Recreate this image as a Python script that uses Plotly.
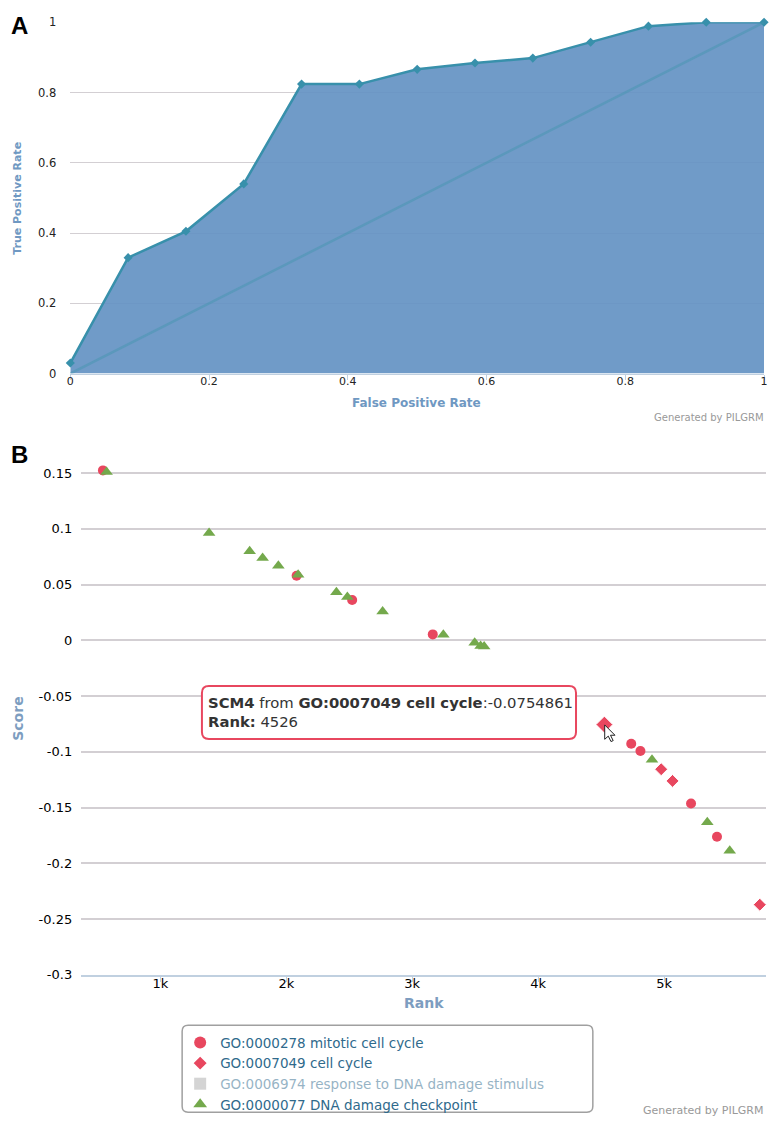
import plotly.graph_objects as go

# ---------- Panel A: ROC ----------
fpr = [0, 1/12, 2/12, 3/12, 4/12, 5/12, 6/12, 7/12, 8/12, 9/12, 10/12, 11/12, 1]
tpr = [0.03, 0.33, 0.405, 0.54, 0.824, 0.824, 0.866, 0.884, 0.898, 0.943, 0.989, 1.0, 1.0]
diag = [0, 1]
roc_xticks = [0, 0.2, 0.4, 0.6, 0.8, 1]
roc_xlabels = ["0", "0.2", "0.4", "0.6", "0.8", "1"]
roc_yticks = [0, 0.2, 0.4, 0.6, 0.8, 1]
roc_ylabels = ["0", "0.2", "0.4", "0.6", "0.8", "1"]

# ---------- Panel B: Score vs Rank ----------
mitotic_rank = [544, 2082, 2523, 3163, 4739, 4812, 5214, 5420]
mitotic_score = [0.1525, 0.058, 0.0363, 0.0054, -0.0926, -0.0991, -0.1463, -0.176]
cellcycle_rank = [4526, 4977, 5067, 5760]
cellcycle_score = [-0.0754861, -0.1155, -0.126, -0.237]
damage_stim_rank = [None]      # series hidden in the reference (legend only)
damage_stim_score = [None]
checkpoint_rank = [573, 1387, 1709, 1812, 1937, 2094, 2398, 2485, 2765, 3247, 3496, 3543, 3571, 4904, 5343, 5521]
checkpoint_score = [0.151, 0.0963, 0.080, 0.074, 0.067, 0.059, 0.0432, 0.039, 0.026, 0.005, -0.002, -0.005, -0.0055, -0.107, -0.163, -0.1886]
rank_ticks = [1000, 2000, 3000, 4000, 5000]
rank_labels = ["1k", "2k", "3k", "4k", "5k"]
score_ticks = [0.15, 0.1, 0.05, 0, -0.05, -0.1, -0.15, -0.2, -0.25, -0.3]
score_labels = ["0.15", "0.1", "0.05", "0", "-0.05", "-0.1", "-0.15", "-0.2", "-0.25", "-0.3"]

W, H = 773, 1127
RED = "#e8475f"
GREEN = "#74a94c"
FONT = "DejaVu Sans"

# the captured page is slightly squeezed vertically; map target pixels to layout pixels
SCY, OFFY = 0.9886, 4.7

def px_x(p):
    return max(0.0, min(1.0, p / W))

def px_y(p):
    return max(0.0, min(1.0, 1 - ((p - OFFY) / SCY) / H))

fig = go.Figure()

# Panel A traces
fig.add_trace(go.Scatter(
    x=fpr, y=tpr, mode="lines+markers", fill="tozeroy",
    fillcolor="rgba(100,146,195,0.92)",
    line=dict(color="#3890ab", width=2.5),
    marker=dict(symbol="diamond", size=7, color="#3890ab"),
    xaxis="x", yaxis="y", showlegend=False, cliponaxis=False))
fig.add_trace(go.Scatter(
    x=diag, y=diag, mode="lines",
    line=dict(color="rgba(70,150,175,0.5)", width=2.5),
    xaxis="x", yaxis="y", showlegend=False))

# Panel B traces
fig.add_trace(go.Scatter(
    x=mitotic_rank, y=mitotic_score, mode="markers",
    name="GO:0000278 mitotic cell cycle",
    marker=dict(symbol="circle", size=10, color=RED, opacity=1),
    xaxis="x2", yaxis="y2", cliponaxis=False))
fig.add_trace(go.Scatter(
    x=cellcycle_rank, y=cellcycle_score, mode="markers",
    name="GO:0007049 cell cycle",
    marker=dict(symbol="diamond", size=[13, 10, 10, 10], color=RED, opacity=1),
    xaxis="x2", yaxis="y2", cliponaxis=False))
fig.add_trace(go.Scatter(
    x=damage_stim_rank, y=damage_stim_score, mode="markers",
    name="GO:0006974 response to DNA damage stimulus",
    marker=dict(symbol="square", size=8, color="#aaaaaa"),
    visible="legendonly", xaxis="x2", yaxis="y2"))
fig.add_trace(go.Scatter(
    x=checkpoint_rank, y=checkpoint_score, mode="markers",
    name="GO:0000077 DNA damage checkpoint",
    marker=dict(symbol="triangle-up", size=11, color=GREEN, opacity=1),
    xaxis="x2", yaxis="y2", cliponaxis=False))

def rounded_rect(x0, y0, x1, y1, r):
    X0, X1 = px_x(x0), px_x(x1)
    Y0, Y1 = px_y(y0), px_y(y1)
    rx, ry = r / W, r / H
    return (f"M {X0+rx},{Y0} L {X1-rx},{Y0} Q {X1},{Y0} {X1},{Y0-ry} "
            f"L {X1},{Y1+ry} Q {X1},{Y1} {X1-rx},{Y1} "
            f"L {X0+rx},{Y1} Q {X0},{Y1} {X0},{Y1+ry} "
            f"L {X0},{Y0-ry} Q {X0},{Y0} {X0+rx},{Y0} Z")

def cursor_path(tx, ty, s):
    pts = [(0, 0), (0, 16), (4, 12.5), (7, 18.5), (9.5, 17.5), (6.5, 11.5), (11.5, 11.5)]
    seg = " L ".join(f"{px_x(tx + s*a)},{px_y(ty + s*b)}" for a, b in pts)
    return "M " + seg + " Z"

grid = "#d3cfd3"
axline = "#c0d0e0"

# rank axis: 1k at target px 158, 5k at 667
RPX0, RPX1 = 158.0, 667.0
def rank_at(p):
    return 1000 + (p - RPX0) * 4000 / (RPX1 - RPX0)

fig.update_layout(
    width=W, height=H,
    margin=dict(l=0, r=0, t=0, b=0),
    paper_bgcolor="white", plot_bgcolor="white",
    font=dict(family=FONT, color="#111111"),
    xaxis=dict(domain=[px_x(67), px_x(768)], range=[0, 1], anchor="y",
               tickvals=roc_xticks, ticktext=roc_xlabels,
               tickfont=dict(size=11, color="#222"),
               showgrid=False, zeroline=False,
               showline=True, linecolor=axline, linewidth=1,
               ticks="outside", ticklen=5, tickcolor=axline,
               ticklabelstandoff=-8),
    yaxis=dict(domain=[px_y(372), px_y(20)], range=[0, 1], anchor="x",
               tickvals=roc_yticks, ticktext=roc_ylabels,
               tickfont=dict(size=11.5, color="#222"),
               showgrid=True, gridcolor=grid, zeroline=False,
               ticklabelstandoff=13),
    xaxis2=dict(domain=[px_x(78), px_x(770)],
                range=[rank_at(78), rank_at(770)], anchor="y2",
                tickvals=rank_ticks, ticktext=rank_labels,
                tickfont=dict(size=13, color="#000"),
                showgrid=False, zeroline=False,
                showline=True, linecolor=axline, linewidth=1.5,
                ticks="outside", ticklen=5, tickcolor=axline,
                ticklabelstandoff=-9),
    yaxis2=dict(domain=[px_y(974.5), px_y(460.6)], range=[-0.3, 0.16], anchor="x2",
                tickvals=score_ticks, ticktext=score_labels,
                tickfont=dict(size=13, color="#000"),
                showgrid=True, gridcolor=grid, gridwidth=1.5, zeroline=False,
                ticklabelstandoff=8),
    showlegend=True,
    legend=dict(x=px_x(178), xanchor="left", y=px_y(1027), yanchor="top",
                bgcolor="rgba(0,0,0,0)", borderwidth=0,
                font=dict(family=FONT, size=13.5, color="#2f6a8c"),
                tracegroupgap=0, itemsizing="constant"),
)

shapes = [
    # legend box
    dict(type="path", path=rounded_rect(180, 1025, 595, 1112, 6), xref="paper", yref="paper",
         line=dict(color="#a0a0a0", width=1.5), fillcolor="white", layer="below"),
    # tooltip box
    dict(type="path", path=rounded_rect(200, 685, 578, 738, 7), xref="paper", yref="paper",
         line=dict(color=RED, width=2), fillcolor="white", layer="above"),
    # mouse cursor
    dict(type="path", path=cursor_path(607, 724, 0.9), xref="paper", yref="paper",
         line=dict(color="#222", width=1), fillcolor="white", layer="above"),
]
fig.update_layout(shapes=shapes)

def note(text, x, y, size, color, family=FONT, xanchor="center", yanchor="middle", angle=0):
    return dict(text=text, x=px_x(x), y=px_y(y), xref="paper", yref="paper",
                xanchor=xanchor, yanchor=yanchor, textangle=angle, showarrow=False,
                align="left", font=dict(family=family, size=size, color=color))

ann = [
    note("<b>A</b>", 5, 23, 24, "black", family="Liberation Sans", xanchor="left"),
    note("<b>B</b>", 5, 453, 24, "black", family="Liberation Sans", xanchor="left"),
    note("<b>True Positive Rate</b>", 14, 196, 11, "#6f98c2", angle=-90),
    note("<b>False Positive Rate</b>", 417, 401, 12, "#6f98c2"),
    note("Generated by PILGRM", 770, 416, 10, "#999999", xanchor="right"),
    note("<b>Score</b>", 14, 718, 14, "#7d9dc0", angle=-90),
    note("<b>Rank</b>", 424, 1003, 14, "#7d9dc0"),
    note("Generated by PILGRM", 770, 1127, 11, "#999999", xanchor="right", yanchor="bottom"),
    note("<b>SCM4</b> from <b>GO:0007049 cell cycle</b>:-0.0754861<br><b>Rank:</b> 4526",
         204, 711, 14.8, "#333333", xanchor="left"),
]
fig.update_layout(annotations=ann)

post = ("var d=document.documentElement,b=document.body;"
        "d.style.margin='0';d.style.padding='0';d.style.overflow='hidden';"
        "b.style.margin='0';b.style.padding='0';b.style.overflow='hidden';")
fig.write_html("out.html", config={"displayModeBar": False}, post_script=post)
